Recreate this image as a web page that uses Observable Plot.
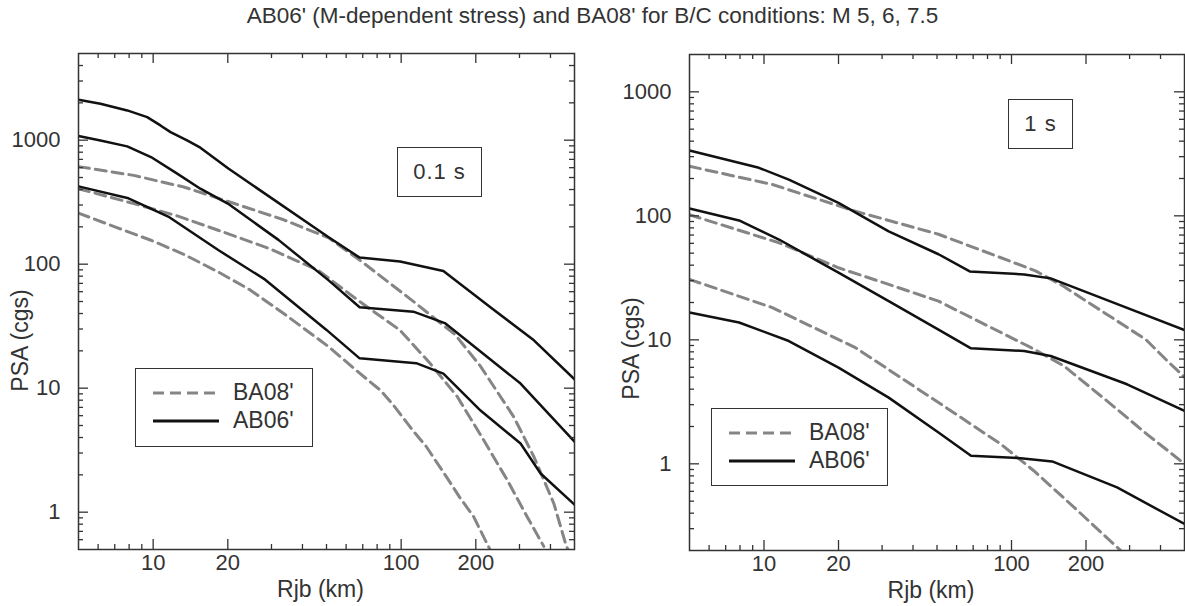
<!DOCTYPE html>
<html>
<head>
<meta charset="utf-8">
<script src="https://cdn.jsdelivr.net/npm/d3@7"></script>
<script src="https://cdn.jsdelivr.net/npm/@observablehq/plot@0.6"></script>
<style>
  body { margin: 0; background: #fff; font-family: "Liberation Sans", Arial, sans-serif; }
  #wrap { position: relative; width: 1185px; height: 606px; overflow: hidden; }
  #title { position: absolute; left: 0; top: 0; width: 1185px; height: 30px; line-height: 32px;
           text-align: center; font-size: 22.5px; color: #333; }
  #left { position: absolute; left: 0; top: 30px; }
  #right { position: absolute; left: 611px; top: 30px; }
  .box { position: absolute; border: 1.5px solid #333; background: #fff; box-sizing: border-box; }
  .period { display: flex; align-items: center; justify-content: center; font-size: 22px; color: #333; letter-spacing: 1px; }
  .legtext { position: absolute; font-size: 23px; color: #333; line-height: 23px; }
  .legsvg { position: absolute; left: 0; top: 0; }
</style>
</head>
<body>
<div id="wrap">
  <div id="title"></div>
  <div id="left"></div>
  <div id="right"></div>
</div>
<script>
// ---------- text ----------
const titleText = "AB06' (M-dependent stress) and BA08' for B/C conditions: M 5, 6, 7.5";
const xLabel = "Rjb (km)";
const yLabel = "PSA (cgs)";
const modelNames = ["BA08'", "AB06'"];
const periodLabels = ["0.1 s", "1 s"];

// ---------- ticks ----------
const rjbTicks = [10, 20, 100, 200];
const rjbMinor = [6, 7, 8, 9, 30, 40, 50, 60, 70, 80, 90, 300, 400];
const psaTicks = [1, 10, 100, 1000];
const psaMinorLeft = [0.6, 0.7, 0.8, 0.9, 2, 3, 4, 5, 6, 7, 8, 9, 20, 30, 40, 50, 60, 70, 80, 90,
  200, 300, 400, 500, 600, 700, 800, 900, 2000, 3000, 4000];
const psaMinorRight = [0.3, 0.4, 0.5, 0.6, 0.7, 0.8, 0.9, 2, 3, 4, 5, 6, 7, 8, 9, 20, 30, 40, 50, 60, 70, 80, 90,
  200, 300, 400, 500, 600, 700, 800, 900];

// ---------- data: [Rjb km, PSA cgs] ----------
// 0.1 s
const ab06_01s_m5 = [[5,424],[7.95,340],[11.5,242],[18.3,130],[28.3,75],[50,29.5],[68,17.4],[115,15.9],[148,13.1],[209,6.6],[303,3.58],[365,2.05],[500,1.15]];
const ab06_01s_m6 = [[5,1080],[6.13,995],[7.86,891],[9.8,731],[12.5,537],[15.5,406],[20,308],[32,157],[51,74],[68,44.9],[112,41.4],[150,33.5],[303,10.9],[500,3.7]];
const ab06_01s_m75 = [[5,2118],[6.13,1966],[7.86,1737],[9.46,1534],[10.7,1315],[11.75,1161],[13.7,995],[15.5,870],[20.1,590],[51,165],[68,113],[99,105],[148,88],[229,45],[343,24.3],[500,11.8]];
const ba08_01s_m5 = [[5,258],[7.05,199],[9.8,156],[13.3,120],[18.4,86],[24.6,62],[33.6,40],[51,21.6],[68,13.2],[82.6,9.6],[93,7.3],[112,4.5],[126,3.4],[153,1.9],[173,1.3],[196,0.92],[228,0.5]];
const ba08_01s_m6 = [[5,406],[8.35,308],[12.5,245],[18.4,187],[29.3,134],[46.4,89],[68,50],[99,29.3],[131,15.8],[168,8.6],[209,4.2],[268,1.81],[322,0.92],[376,0.53]];
const ba08_01s_m75 = [[5,612],[8.35,520],[13.3,419],[21.1,310],[33.6,228],[51,163],[68,108],[108,53],[165,27],[209,15],[284,5.9],[343,2.8],[413,1.17],[460,0.56],[470,0.5]];
// 1 s
const ab06_1s_m5 = [[5,16.6],[7.93,13.8],[12.6,9.78],[20,5.97],[31.9,3.42],[50.7,1.79],[68.6,1.16],[109,1.11],[146,1.045],[267,0.645],[500,0.327]];
const ab06_1s_m6 = [[5,114.5],[7.93,91.7],[11.5,64.4],[20,34.8],[31.9,20.5],[50.7,12.1],[68.6,8.54],[112.5,8.13],[144,7.41],[293,4.38],[500,2.67]];
const ab06_1s_m75 = [[5,336],[9.54,244],[12.6,196],[20,127],[31.9,75],[50.7,49],[67.8,35.6],[112.5,33.7],[144,31.3],[229,21.9],[500,12]];
const ba08_1s_m5 = [[5,30.7],[10.8,18.2],[23.4,8.65],[50.7,3.12],[90.6,1.44],[123,0.88],[179,0.446],[276,0.2]];
const ba08_1s_m6 = [[5,102],[11.5,60.6],[20,38.1],[31.9,28],[50.7,20.5],[120,8.65],[163,6.15],[243,3.22],[353,1.73],[500,1.0]];
const ba08_1s_m75 = [[5,251],[10.8,179],[23.4,109],[50.7,71],[88,47],[125,36],[160,27.5],[267,14.2],[350,10],[425,6.8],[500,5]];

function rows(series) {
  const out = [];
  for (const [mag, pts] of series) for (const [r, psa] of pts) out.push({mag, r, psa});
  return out;
}

const FONT = '"Liberation Sans", Arial, sans-serif';

function panel({width, height, mL, mR, mT, mB, yDomain, yMinor, solid, dashed, labelDx, ylabDy}) {
  const fw = width - mL - mR, fh = height - mT - mB;
  const tk = {stroke: "#333", strokeWidth: 1.3};
  return Plot.plot({
    width, height,
    marginLeft: mL, marginRight: mR, marginTop: mT, marginBottom: mB,
    x: {type: "log", domain: [5, 500]},
    y: {type: "log", domain: yDomain},
    style: {fontFamily: FONT, fontSize: "22px", color: "#333", background: "white", overflow: "visible"},
    marks: [
      Plot.line(rows(dashed), {x: "r", y: "psa", z: "mag", stroke: "#858585", strokeWidth: 3,
        strokeDasharray: "11,6", clip: true}),
      Plot.line(rows(solid), {x: "r", y: "psa", z: "mag", stroke: "#111", strokeWidth: 2.5, clip: true}),
      // inward ticks
      Plot.ruleX(rjbTicks, {insetTop: fh - 10, ...tk}),
      Plot.ruleX(rjbTicks, {insetBottom: fh - 10, ...tk}),
      Plot.ruleX(rjbMinor, {insetTop: fh - 5, ...tk}),
      Plot.ruleX(rjbMinor, {insetBottom: fh - 5, ...tk}),
      Plot.ruleY(psaTicks, {insetRight: fw - 10, ...tk}),
      Plot.ruleY(psaTicks, {insetLeft: fw - 10, ...tk}),
      Plot.ruleY(yMinor, {insetRight: fw - 5, ...tk}),
      Plot.ruleY(yMinor, {insetLeft: fw - 5, ...tk}),
      Plot.frame({stroke: "#333", strokeWidth: 1.5}),
      Plot.axisX({ticks: rjbTicks, tickSize: 0, tickPadding: 5, tickFormat: d => String(d),
        label: null, fontSize: 22, fill: "#333"}),
      Plot.axisY({ticks: psaTicks, tickSize: 0, tickPadding: 18, tickFormat: d => String(d),
        label: null, fontSize: 22, fill: "#333"}),
      Plot.text([xLabel], {text: d => d, frameAnchor: "bottom", dx: labelDx, dy: 40, fontSize: 23,
        fill: "#333", lineAnchor: "middle", textAnchor: "middle"}),
      Plot.text([yLabel], {text: d => d, frameAnchor: "left", dx: -58, dy: ylabDy, rotate: -90,
        fontSize: 23, fill: "#333", textAnchor: "middle", lineAnchor: "middle"})
    ]
  });
}

document.getElementById("title").textContent = titleText;

document.getElementById("left").appendChild(panel({
  width: 611, height: 576, mL: 78, mR: 37, mT: 23, mB: 57,
  yDomain: [0.5, 5000], yMinor: psaMinorLeft,
  solid: [["5", ab06_01s_m5], ["6", ab06_01s_m6], ["7.5", ab06_01s_m75]],
  dashed: [["5", ba08_01s_m5], ["6", ba08_01s_m6], ["7.5", ba08_01s_m75]],
  labelDx: -6, ylabDy: 39
}));

document.getElementById("right").appendChild(panel({
  width: 574, height: 576, mL: 78, mR: 1, mT: 24, mB: 56,
  yDomain: [0.2, 2000], yMinor: psaMinorRight,
  solid: [["5", ab06_1s_m5], ["6", ab06_1s_m6], ["7.5", ab06_1s_m75]],
  dashed: [["5", ba08_1s_m5], ["6", ba08_1s_m6], ["7.5", ba08_1s_m75]],
  labelDx: -6, ylabDy: 46
}));

// ---------- legends and period boxes ----------
const wrap = document.getElementById("wrap");
function legend(left, top, w, h) {
  const box = document.createElement("div");
  box.className = "box";
  Object.assign(box.style, {left: left + "px", top: top + "px", width: w + "px", height: h + "px"});
  const ns = "http://www.w3.org/2000/svg";
  const svg = document.createElementNS(ns, "svg");
  svg.setAttribute("class", "legsvg");
  svg.setAttribute("width", w); svg.setAttribute("height", h);
  const styles = [{stroke: "#858585", w: 3, dash: "11,6"}, {stroke: "#111", w: 3, dash: null}];
  modelNames.forEach((name, i) => {
    const y = 24 + i * 28;
    const ln = document.createElementNS(ns, "line");
    ln.setAttribute("x1", 17); ln.setAttribute("x2", 83);
    ln.setAttribute("y1", y); ln.setAttribute("y2", y);
    ln.setAttribute("stroke", styles[i].stroke);
    ln.setAttribute("stroke-width", styles[i].w);
    if (styles[i].dash) ln.setAttribute("stroke-dasharray", styles[i].dash);
    svg.appendChild(ln);
    const t = document.createElement("div");
    t.className = "legtext";
    t.textContent = name;
    Object.assign(t.style, {left: "97px", top: (y - 12) + "px"});
    box.appendChild(t);
  });
  box.appendChild(svg);
  wrap.appendChild(box);
}
function period(text, left, top, w, h) {
  const box = document.createElement("div");
  box.className = "box period";
  Object.assign(box.style, {left: left + "px", top: top + "px", width: w + "px", height: h + "px"});
  box.textContent = text;
  wrap.appendChild(box);
}
legend(135, 368, 178, 79);
legend(711, 408, 177, 78);
period(periodLabels[0], 397, 147, 85, 50);
period(periodLabels[1], 1008, 99, 65, 50);
</script>
</body>
</html>
